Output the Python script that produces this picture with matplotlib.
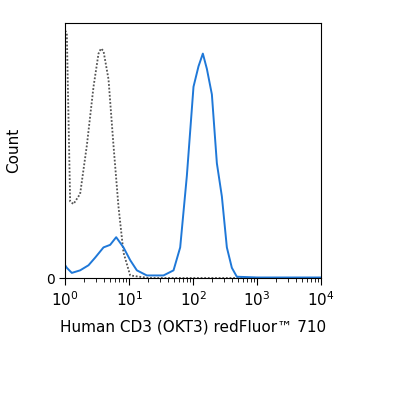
import matplotlib
matplotlib.use("Agg")
import matplotlib.pyplot as plt
import numpy as np

ctrl_log = [0.0, 0.026, 0.078, 0.130, 0.234, 0.339, 0.443, 0.521, 0.560, 0.599, 0.677, 0.755, 0.833, 0.911, 1.016, 1.3, 4.0]
ctrl_h   = [0.97, 0.96, 0.30, 0.29, 0.33, 0.52, 0.75, 0.88, 0.90, 0.89, 0.78, 0.52, 0.28, 0.10, 0.01, 0.0, 0.0]
cd3_log = [0.0, 0.026, 0.104, 0.234, 0.365, 0.469, 0.599, 0.703, 0.797, 0.911, 1.016, 1.120, 1.276, 1.536, 1.693, 1.797, 1.901, 2.005, 2.083, 2.151, 2.214, 2.292, 2.370, 2.448, 2.526, 2.604, 2.682, 3.0, 4.0]
cd3_h   = [0.05, 0.04, 0.02, 0.03, 0.05, 0.08, 0.12, 0.13, 0.16, 0.12, 0.07, 0.03, 0.01, 0.01, 0.03, 0.12, 0.40, 0.75, 0.83, 0.88, 0.82, 0.72, 0.45, 0.32, 0.12, 0.04, 0.005, 0.002, 0.002]

fig = plt.figure(figsize=(4.15, 4.0), dpi=100)
ax = fig.add_axes([0.157, 0.305, 0.617, 0.6375])
ax.plot(10 ** np.array(ctrl_log), ctrl_h, color="#555555", linestyle=(0, (1, 1)), lw=1.3)
ax.plot(10 ** np.array(cd3_log), cd3_h, color="#1f78d8", lw=1.4)
ax.set_xscale("log")
ax.set_xlim(1, 1e4)
ax.set_ylim(0, 1.0)
ax.set_yticks([0])
ax.set_yticklabels(["0"], fontsize=10)
ax.tick_params(axis="y", length=4)
ax.set_xticks([1, 10, 100, 1000, 10000])
ax.set_xticklabels([r"$10^{0}$", r"$10^{1}$", r"$10^{2}$", r"$10^{3}$", r"$10^{4}$"], fontsize=11)
ax.tick_params(axis="x", which="major", length=5)
ax.tick_params(axis="x", which="minor", length=3)
ax.set_ylabel("Count", fontsize=11, labelpad=18)
ax.set_xlabel("Human CD3 (OKT3) redFluor™ 710", fontsize=11, labelpad=8)
fig.savefig("out.png", dpi=100)
